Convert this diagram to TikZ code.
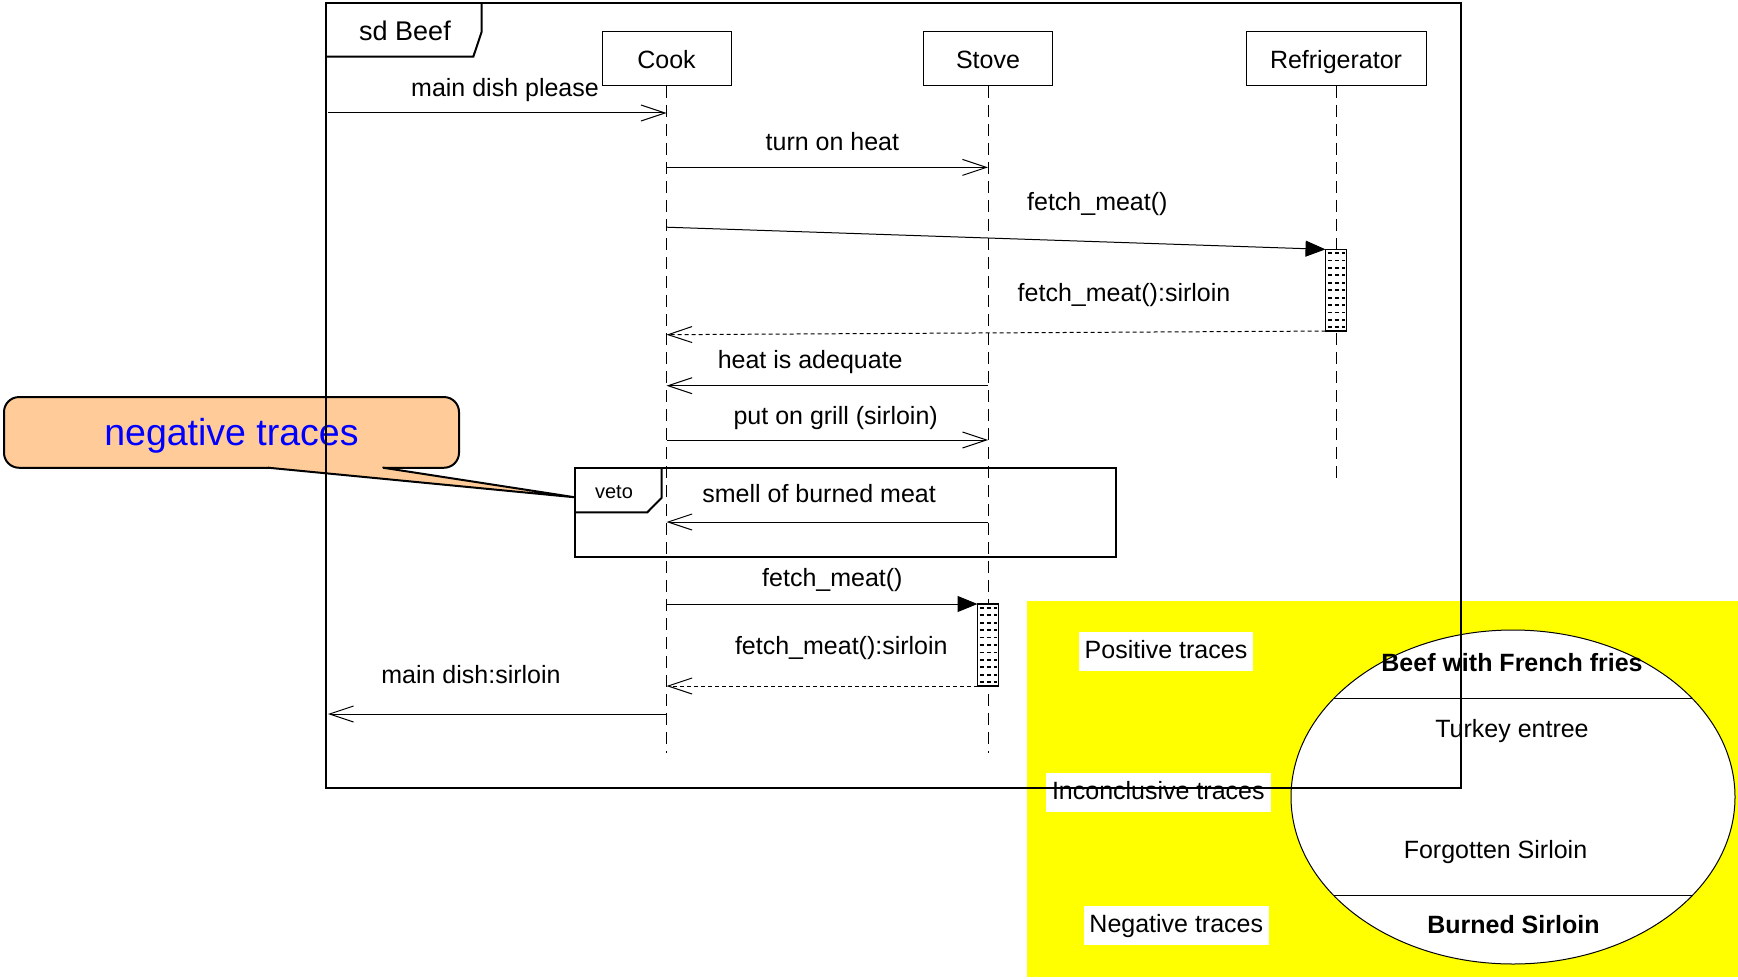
\documentclass[tikz,border=0pt]{standalone}
\usepackage{fontspec}
\setmainfont{Liberation Sans}
\usetikzlibrary{arrows.meta,calc}
\definecolor{calloutfill}{RGB}{255,204,153}
\definecolor{panelyellow}{RGB}{255,255,0}

\begin{document}
\begin{tikzpicture}[x=0.5pt,y=-0.5pt,
  every node/.style={inner sep=0pt, outer sep=0pt},
  txt/.style={font=\fontsize{12.5}{15}\selectfont, text height=9.3pt, text depth=2.7pt},
  head/.style={txt, text height=9.6pt, text depth=0pt, draw, line width=0.5pt, fill=white, minimum height=27.2pt},
  lifeline/.style={line width=0.5pt, dash pattern=on 6pt off 3.5pt},
  msg/.style={line width=0.5pt, -{Straight Barb[length=12pt,width=8pt,line width=0.5pt]}},
  call/.style={line width=0.5pt, -{Triangle[length=10pt,width=8pt]}},
  reply/.style={line width=0.5pt, dash pattern=on 2pt off 1.5pt,
                -{Straight Barb[length=12pt,width=8pt,line width=0.5pt]}},
  activation/.style={draw, fill=white, line width=0.6pt, minimum width=10.5pt},
  actrow/.style={line width=0.9pt, dash pattern=on 2pt off 1.6pt, shorten <=1pt, shorten >=1pt},
  framebox/.style={draw, line width=1pt},
  tracebox/.style={txt, fill=white, minimum height=19.3pt},
]
\useasboundingbox (0,0) rectangle (1738,979);

% ---------- trace classification panel ----------
\fill[panelyellow] (1027,601) rectangle (1738,977);
\coordinate (venn) at (1513,797);
\draw[fill=white, line width=0.5pt] (venn) ellipse [x radius=111pt, y radius=83.5pt];
\begin{scope}
  \clip (venn) ellipse [x radius=111pt, y radius=83.5pt];
  \draw[line width=0.6pt] (1280,698.7) -- (1740,698.7);
  \draw[line width=0.6pt] (1280,895.7) -- (1740,895.7);
\end{scope}
\node[txt, font=\fontsize{12.5}{15}\selectfont\bfseries] (posset) at (1512,665) {Beef with French fries};
\node[txt] (turkey) at (1512,730.5) {Turkey entree};
\node[txt] (forgot) at (1495.5,851.5) {Forgotten Sirloin};
\node[txt, font=\fontsize{12.5}{15}\selectfont\bfseries] (negset) at (1513.4,926.5) {Burned Sirloin};

\node[tracebox, minimum width=86.75pt] (postr) at (1166,651.5) {Positive traces};
\node[tracebox, minimum width=112.7pt] (inctr) at (1158.3,792.5) {Inconclusive traces};
\node[tracebox, minimum width=92.3pt] (negtr) at (1176.3,925.5) {Negative traces};

% ---------- lifelines ----------
\node[head, minimum width=64.5pt] (cook) at (666.5,58.8) {Cook};
\node[head, minimum width=64.85pt] (stove) at (988,58.7) {Stove};
\node[head, minimum width=90pt] (fridge) at (1336,58.7) {Refrigerator};

\coordinate (cookend) at (666.5,752.5);
\coordinate (stoveend) at (988,752.5);
\coordinate (fridgeend) at (1336,480);
\draw[lifeline] (cook.south) -- (cookend);
\draw[lifeline] (stove.south) -- (stoveend);
\draw[lifeline] (fridge.south) -- (fridgeend);

% activations
\node[activation, minimum height=40.85pt] (act1) at (1336,290.2) {};
\node[activation, minimum height=41pt] (act2) at (988,645) {};
\foreach \a in {act1,act2}{
  \foreach \i in {1,...,11}{
    \draw[actrow] ($(\a.north west)!{(\i-0.5)/11}!(\a.south west)$)
               -- ($(\a.north east)!{(\i-0.5)/11}!(\a.south east)$);
  }
}

% ---------- messages ----------
\coordinate (gatein) at (328,113);
\coordinate (gateout) at (328,714);
\coordinate (y2) at (0,167.4);
\coordinate (y3) at (0,227.2);
\coordinate (y4) at (0,334.7);
\coordinate (y5) at (0,385.7);
\coordinate (y6) at (0,440);
\coordinate (y7) at (0,522);

\draw[msg] (gatein) -- (gatein -| cook);
\node[txt] (l1) at (505,90) {main dish please};

\draw[msg] (cook |- y2) -- (stove |- y2);
\node[txt] (l2) at (832.4,144) {turn on heat};

\draw[call] (cook |- y3) -- (act1.north west);
\node[txt] (l3) at (1097.3,203.7) {fetch\_meat()};

\draw[reply] (act1.south west) -- (cook |- y4);
\node[txt] (l4) at (1124,294.6) {fetch\_meat():sirloin};

\draw[msg] (stove |- y5) -- (cook |- y5);
\node[txt] (l5) at (810.2,362.2) {heat is adequate};

\draw[msg] (cook |- y6) -- (stove |- y6);
\node[txt] (l6) at (835.7,417.6) {put on grill (sirloin)};

% veto fragment
\node[draw, line width=1pt, minimum width=270.6pt, minimum height=44.5pt] (veto) at (845.6,512) {};
\draw[line width=1pt] ($(veto.north west)+(86.7,0)$) -- ($(veto.north west)+(86.7,30.2)$)
  -- ($(veto.north west)+(72.3,44.8)$) -- ($(veto.north west)+(0,44.8)$);
\node[font=\fontsize{10}{12}\selectfont] (vetolbl) at (614,491.7) {veto};

\draw[msg] (stove |- y7) -- (cook |- y7);
\node[txt] (l7) at (819.1,496.3) {smell of burned meat};

\draw[call] (cook |- act2.north) -- (act2.north west);
\node[txt] (l8) at (832.4,579.5) {fetch\_meat()};

\draw[reply] (act2.south west) -- (cook |- act2.south);
\node[txt] (l9) at (841.3,648.2) {fetch\_meat():sirloin};

\draw[msg] (cook |- gateout) -- (gateout);
\node[txt] (l10) at (471,676.5) {main dish:sirloin};

% ---------- comment callout ----------
\node[draw, line width=1pt, fill=calloutfill, rounded corners=7.5pt,
      minimum width=227.5pt, minimum height=35.35pt, text height=13.5pt, text depth=0pt,
      font=\fontsize{18.75}{22}\selectfont, text=blue] (note) at (231.5,432.4) {negative traces};
\coordinate (ptra) at (268,467.7);
\coordinate (ptrb) at (383,467.7);
\coordinate (ptrtip) at (veto.west |- 0,497.3);
\fill[calloutfill] (ptra) -- (ptrtip) -- (ptrb) -- cycle;
\fill[calloutfill] ($(ptra)+(1,-3)$) rectangle ($(ptrb)+(-1,1.2)$);
\draw[line width=1pt, line join=miter] (ptra) -- (ptrtip) -- (ptrb);

% ---------- interaction frame ----------
\node[framebox, minimum width=567.5pt, minimum height=392.25pt] (sd) at (893.5,395.75) {};
\draw[line width=1pt] ($(sd.north west)+(155.7,0)$) -- ($(sd.north west)+(155.7,28.2)$)
  -- ($(sd.north west)+(147.3,53.2)$) -- ($(sd.north west)+(0,53.2)$);
\node[font=\fontsize{13.5}{16}\selectfont] (sdlbl) at (405,31) {sd Beef};

\end{tikzpicture}
\end{document}
